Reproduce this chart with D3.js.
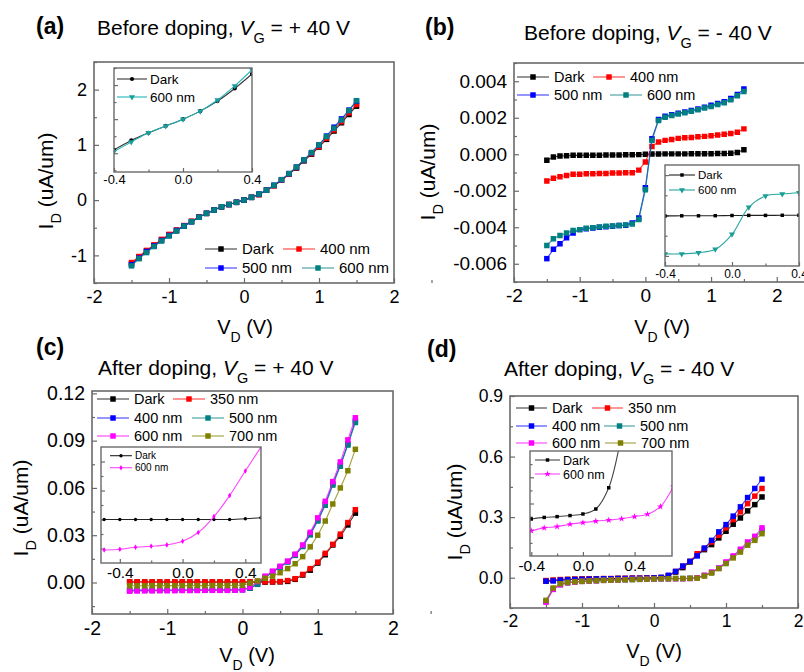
<!DOCTYPE html>
<html>
<head>
<meta charset="utf-8">
<script src="https://cdn.jsdelivr.net/npm/d3@7"></script>
<style>
  body { margin: 0; background: #fff; }
  svg { display: block; }
</style>
</head>
<body>
<svg id="fig" width="804" height="672"></svg>
<script>
// ---------- data ----------
const vd = [-1.5,-1.4,-1.3,-1.2,-1.1,-1.0,-0.9,-0.8,-0.7,-0.6,-0.5,-0.4,-0.3,-0.2,-0.1,0.0,
            0.1,0.2,0.3,0.4,0.5,0.6,0.7,0.8,0.9,1.0,1.1,1.2,1.3,1.4,1.5];

const namesBefore = ["Dark", "400 nm", "500 nm", "600 nm"];
const namesAfter  = ["Dark", "350 nm", "400 nm", "500 nm", "600 nm", "700 nm"];

// (a) before doping, VG = +40 V
const aDark = [-1.15,-1.03,-0.92,-0.82,-0.72,-0.63,-0.55,-0.47,-0.39,-0.31,-0.24,-0.18,-0.12,-0.08,-0.04,0.00,
               0.05,0.10,0.18,0.26,0.36,0.47,0.58,0.71,0.83,0.96,1.10,1.25,1.40,1.55,1.70];
const a400  = [-1.13,-1.02,-0.91,-0.81,-0.71,-0.62,-0.54,-0.46,-0.38,-0.30,-0.24,-0.18,-0.12,-0.08,-0.04,0.00,
               0.05,0.10,0.18,0.26,0.36,0.47,0.59,0.72,0.84,0.97,1.12,1.27,1.42,1.58,1.73];
const a500  = [-1.17,-1.05,-0.93,-0.83,-0.73,-0.64,-0.55,-0.47,-0.39,-0.31,-0.24,-0.18,-0.12,-0.08,-0.04,0.00,
               0.05,0.11,0.18,0.27,0.37,0.48,0.60,0.73,0.86,1.00,1.16,1.32,1.47,1.63,1.79];
const a600  = [-1.19,-1.06,-0.95,-0.84,-0.74,-0.65,-0.56,-0.47,-0.39,-0.31,-0.24,-0.18,-0.12,-0.08,-0.04,0.00,
               0.05,0.11,0.18,0.27,0.37,0.48,0.60,0.73,0.86,1.00,1.15,1.30,1.45,1.62,1.80];
const insVdA   = [-0.4,-0.3,-0.2,-0.1,0.0,0.1,0.2,0.3,0.4];
const aInsDark = [-0.18,-0.125,-0.08,-0.04,0.0,0.047,0.106,0.18,0.265];
const aIns600  = [-0.19,-0.134,-0.08,-0.04,0.0,0.047,0.112,0.195,0.29];

// (b) before doping, VG = -40 V
const bDark = [-0.00033,-0.00015,-0.0001,-0.00008,-0.00006,-0.00006,-0.00005,-0.00005,-0.00005,-0.00004,-0.00004,-0.00004,-0.00003,-0.00003,-0.00002,0.0,
               0.00001,0.00001,0.00002,0.00002,0.00002,0.00002,0.00003,0.00003,0.00003,0.00003,0.00004,0.00004,0.00005,0.0001,0.00025];
const b400  = [-0.00147,-0.00132,-0.00123,-0.00116,-0.0011,-0.00109,-0.00107,-0.00107,-0.00105,-0.00105,-0.00103,-0.00103,-0.00101,-0.00101,-0.00087,-0.00042,
               0.00043,0.00067,0.00076,0.00081,0.00087,0.0009,0.00092,0.00096,0.00098,0.00101,0.00105,0.00109,0.00114,0.00121,0.00139];
const b500  = [-0.00572,-0.00521,-0.0049,-0.00458,-0.00431,-0.00413,-0.00408,-0.00404,-0.004,-0.00398,-0.00394,-0.00391,-0.00389,-0.00376,-0.00349,-0.00183,
               0.00085,0.0019,0.00208,0.00217,0.00225,0.00232,0.0024,0.00248,0.00258,0.00268,0.00278,0.00288,0.00305,0.00328,0.00357];
const b600  = [-0.005,-0.00463,-0.00445,-0.00431,-0.00418,-0.00413,-0.00406,-0.00402,-0.00398,-0.00395,-0.00393,-0.0039,-0.00387,-0.00382,-0.00358,-0.00195,
               0.00076,0.00185,0.00203,0.00212,0.0022,0.00228,0.00236,0.00244,0.00253,0.00262,0.00272,0.00282,0.00298,0.0032,0.00344];
const insVdB   = [-0.4,-0.3,-0.2,-0.1,0.0,0.1,0.2,0.3,0.4];
const bInsDark = [-0.00004,-0.00003,-0.00003,-0.00002,0.0,0.00001,0.00001,0.00002,0.00002];
const bIns600  = [-0.0038,-0.0038,-0.00368,-0.00335,-0.00186,0.00081,0.00193,0.00213,0.00226];

// (c) after doping, VG = +40 V
const cDark = [0.0003,0.0003,0.0003,0.0002,0.0002,0.0002,0.0002,0.0002,0.0002,0.0002,0.0002,0.0002,0.0002,0.0002,0.0002,0.0002,
               0.0002,0.0002,0.0002,0.0003,0.0004,0.0007,0.002,0.0047,0.0078,0.0123,0.0176,0.0238,0.0293,0.0365,0.044];
const c350  = [0.0004,0.0004,0.0004,0.0004,0.0004,0.0004,0.0004,0.0004,0.0004,0.0004,0.0004,0.0004,0.0004,0.0004,0.0004,0.0004,
               0.0004,0.0004,0.0004,0.0004,0.0006,0.0012,0.0024,0.0051,0.0088,0.0129,0.0185,0.0242,0.0307,0.038,0.0462];
const c400  = [-0.0051,-0.005,-0.005,-0.005,-0.005,-0.005,-0.0049,-0.0049,-0.0049,-0.0049,-0.0049,-0.0048,-0.0048,-0.0048,-0.0048,-0.0046,
               -0.0035,-0.001,0.0033,0.0068,0.0098,0.0133,0.0176,0.0232,0.0307,0.0396,0.0498,0.0627,0.0744,0.0878,0.1025];
const c500  = [-0.0049,-0.0048,-0.0048,-0.0048,-0.0048,-0.0048,-0.0047,-0.0047,-0.0047,-0.0047,-0.0047,-0.0046,-0.0046,-0.0046,-0.0046,-0.0045,
               -0.0036,-0.0012,0.0031,0.0066,0.0096,0.013,0.0172,0.0228,0.0302,0.039,0.049,0.0618,0.0738,0.0872,0.1015];
const c600  = [-0.0055,-0.0054,-0.0053,-0.0053,-0.0052,-0.0052,-0.0052,-0.0051,-0.0051,-0.0051,-0.005,-0.005,-0.005,-0.005,-0.0049,-0.0047,
               -0.003,0.0006,0.004,0.0072,0.0103,0.0135,0.018,0.0238,0.0318,0.041,0.0515,0.064,0.0765,0.0905,0.1045];
const c700  = [-0.0021,-0.0021,-0.0021,-0.002,-0.002,-0.002,-0.002,-0.002,-0.002,-0.002,-0.002,-0.0019,-0.0019,-0.0019,-0.0019,-0.0018,
               -0.0004,0.001,0.0027,0.004,0.0062,0.0088,0.0119,0.0164,0.0226,0.03,0.039,0.0498,0.06,0.0709,0.0845];
const insVdC   = [-0.5,-0.4,-0.3,-0.2,-0.1,0.0,0.1,0.2,0.3,0.4,0.5];
const cInsDark = [0.0,0.0,0.0,0.0,0.0,0.0,0.0,0.0,0.0,0.0001,0.00025];
const cIns600  = [-0.0042,-0.0041,-0.00383,-0.0037,-0.0035,-0.003,-0.0018,0.0004,0.0033,0.0067,0.01];

// (d) after doping, VG = -40 V
const dDark = [-0.017,-0.013,-0.01,-0.009,-0.008,-0.007,-0.006,-0.006,-0.005,-0.005,-0.004,-0.004,-0.003,-0.003,-0.002,-0.002,
               0.0,0.008,0.028,0.05,0.078,0.111,0.139,0.164,0.197,0.23,0.265,0.296,0.331,0.362,0.4];
const d350  = [-0.014,-0.012,-0.009,-0.008,-0.007,-0.006,-0.005,-0.005,-0.004,-0.004,-0.003,-0.003,-0.002,-0.002,-0.001,-0.001,
               0.001,0.01,0.031,0.056,0.081,0.119,0.144,0.177,0.21,0.247,0.288,0.326,0.367,0.404,0.442];
const d400  = [-0.017,-0.016,-0.012,-0.01,-0.009,-0.008,-0.007,-0.006,-0.005,-0.005,-0.004,-0.004,-0.003,-0.003,-0.002,-0.001,
               0.002,0.012,0.031,0.058,0.081,0.108,0.147,0.185,0.227,0.263,0.305,0.351,0.397,0.442,0.488];
const d500  = [-0.118,-0.056,-0.034,-0.025,-0.021,-0.018,-0.016,-0.015,-0.013,-0.012,-0.011,-0.01,-0.009,-0.008,-0.007,-0.006,
               -0.005,-0.005,-0.004,-0.004,-0.003,0.0,0.011,0.026,0.047,0.075,0.104,0.136,0.17,0.197,0.235];
const d600  = [-0.121,-0.058,-0.035,-0.025,-0.0215,-0.018,-0.016,-0.015,-0.013,-0.012,-0.01,-0.009,-0.008,-0.008,-0.006,-0.006,
               -0.005,-0.005,-0.005,-0.005,-0.004,0.0,0.012,0.028,0.048,0.078,0.108,0.141,0.177,0.205,0.247];
const d700  = [-0.112,-0.051,-0.03,-0.023,-0.02,-0.018,-0.016,-0.014,-0.013,-0.012,-0.011,-0.01,-0.009,-0.008,-0.007,-0.006,
               -0.005,-0.005,-0.004,-0.004,-0.003,-0.002,0.008,0.023,0.045,0.07,0.098,0.127,0.161,0.185,0.218];
const insVdD   = [-0.4,-0.3,-0.2,-0.1,0.0,0.1,0.2,0.3,0.4,0.5,0.6,0.7];
const dInsDark = [-0.0059,-0.0053,-0.005,-0.0046,-0.004,-0.0021,0.006,0.026,0.05,0.078,0.111,0.139];
const dIns600  = [-0.0104,-0.0093,-0.0088,-0.0079,-0.0073,-0.0067,-0.0063,-0.0058,-0.005,-0.0041,-0.0012,0.0064];

// tick values
const xMajor = [-2,-1,0,1,2];
const xMinor = [-1.5,-0.5,0.5,1.5,2.5];
const aYMajor = [-1,0,1,2];
const aYMinor = [-1.5,-0.5,0.5,1.5,2.5];
const bYMajor = [-0.006,-0.004,-0.002,0,0.002,0.004];
const bYMinor = [-0.007,-0.005,-0.003,-0.001,0.001,0.003,0.005];
const cYMajor = [0,0.03,0.06,0.09,0.12];
const cYMinor = [-0.015,0.015,0.045,0.075,0.105];
const dYMajor = [0,0.3,0.6,0.9];
const dYMinor = [-0.15,0.15,0.45,0.75];
const insXMajor = [-0.4,0.0,0.4];
const insXMinor = [-0.2,0.2];

// ---------- drawing ----------
const FONT = '"Liberation Sans", Arial, Helvetica, sans-serif';
const palette = ["#000000", "#ff0000", "#0000ff", "#008080", "#ff00ff", "#808000"];
const FRAME = "#6a6a6a";
const svg = d3.select("#fig").attr("font-family", FONT);
const hyphen = f => d => f(d).replace("\u2212", "-");

function addAxes(g, x, y, box, o) {
  const bx = g.append("g").attr("transform", `translate(0,${box.bottom})`)
    .call(d3.axisBottom(x).tickValues(o.xMajor).tickSize(-o.major).tickPadding(o.xPad)
      .tickFormat(hyphen(d3.format(o.xFmt))));
  const by = g.append("g").attr("transform", `translate(${box.left},0)`)
    .call(d3.axisLeft(y).tickValues(o.yMajor).tickSize(-o.major).tickPadding(o.yPad)
      .tickFormat(o.yFmt ? hyphen(d3.format(o.yFmt)) : ""));
  const mx = g.append("g").attr("transform", `translate(0,${box.bottom})`)
    .call(d3.axisBottom(x).tickValues(o.xMinor).tickSize(-o.minor).tickFormat(""));
  const my = g.append("g").attr("transform", `translate(${box.left},0)`)
    .call(d3.axisLeft(y).tickValues(o.yMinor).tickSize(-o.minor).tickFormat(""));
  [bx, by, mx, my].forEach(a => {
    a.select(".domain").remove();
    a.attr("font-family", FONT).attr("font-size", o.fontSize).attr("color", FRAME);
    a.selectAll("line").attr("stroke-width", 1.2);
    a.selectAll("text").attr("fill", "#000");
  });
}

function symbolPath(type, size) {
  return d3.symbol().type(type).size(size)();
}

function drawMain(p) {
  const g = svg.append("g");
  const b = p.box;
  const x = d3.scaleLinear().domain(p.xDomain).range([b.left, b.right]);
  const y = d3.scaleLinear().domain(p.yDomain).range([b.bottom, b.top]);
  const clipId = "clip-" + p.key;
  g.append("clipPath").attr("id", clipId).append("rect")
    .attr("x", b.left).attr("y", b.top).attr("width", b.right - b.left).attr("height", b.bottom - b.top);

  addAxes(g, x, y, b, {
    xMajor, xMinor, yMajor: p.yMajor, yMinor: p.yMinor, major: 5, minor: 3,
    xPad: 7, yPad: 7, xFmt: "d", yFmt: p.yFmt, fontSize: p.tickFont
  });

  const plot = g.append("g").attr("clip-path", `url(#${clipId})`);
  const line = d3.line().x((d, i) => x(vd[i])).y(d => y(d));
  const sq = symbolPath(d3.symbolSquare, 30);
  p.series.forEach((s, k) => {
    const c = palette[k];
    plot.append("path").attr("d", line(s)).attr("fill", "none")
      .attr("stroke", c).attr("stroke-width", 1.1).attr("stroke-opacity", 0.75);
    plot.append("g").selectAll("path").data(s).join("path")
      .attr("d", sq).attr("fill", c)
      .attr("transform", (d, i) => `translate(${x(vd[i])},${y(d)})`);
  });

  // inset
  if (p.inset) drawInset(g, p.inset);

  // legend: two entries per row, each row laid out on its own
  const L = p.legend;
  p.names.forEach((name, k) => {
    const row = Math.floor(k / 2), col = k % 2;
    const lx = L.rows[row].x[col], ly = L.rows[row].y;
    const lg = g.append("g");
    lg.append("line").attr("x1", lx).attr("x2", lx + L.len).attr("y1", ly).attr("y2", ly)
      .attr("stroke", palette[k]).attr("stroke-width", 1.1).attr("stroke-opacity", 0.75);
    lg.append("path").attr("d", sq).attr("fill", palette[k])
      .attr("transform", `translate(${lx + L.len / 2},${ly})`);
    lg.append("text").attr("x", lx + L.len + 5).attr("y", ly).attr("dy", "0.36em")
      .attr("font-size", L.fontSize).text(name);
  });

  // frame
  g.append("rect").attr("x", b.left).attr("y", b.top)
    .attr("width", b.right - b.left).attr("height", b.bottom - b.top)
    .attr("fill", "none").attr("stroke", FRAME).attr("stroke-width", 1.6);

  // axis titles
  const xt = g.append("text").attr("x", p.xLabel[0]).attr("y", p.xLabel[1])
    .attr("text-anchor", "middle").attr("font-size", 20);
  xt.append("tspan").text("V");
  xt.append("tspan").attr("baseline-shift", "sub").attr("font-size", 14).text("D");
  xt.append("tspan").text(" (V)");

  const yt = g.append("text").attr("text-anchor", "middle").attr("font-size", 21)
    .attr("transform", `translate(${p.yLabel[0]},${p.yLabel[1]}) rotate(-90)`);
  yt.append("tspan").text("I");
  yt.append("tspan").attr("baseline-shift", "sub").attr("font-size", 14.5).text("D");
  yt.append("tspan").text(" (uA/um)");

  // panel letter and title
  g.append("text").attr("x", p.letter[0]).attr("y", p.letter[1])
    .attr("font-size", 23).attr("font-weight", "bold").text(p.letterText);
  const tt = g.append("text").attr("x", p.title[0]).attr("y", p.title[1]).attr("font-size", 21);
  tt.append("tspan").text(p.titleText[0]);
  tt.append("tspan").attr("font-style", "italic").text("V");
  tt.append("tspan").attr("baseline-shift", "sub").attr("font-size", 14.5).text("G");
  tt.append("tspan").text(p.titleText[1]);
}

function drawInset(parent, q) {
  const g = parent.append("g");
  const b = q.box;
  const x = d3.scaleLinear().domain(q.xDomain).range([b.left, b.right]);
  const y = d3.scaleLinear().domain(q.yDomain).range([b.bottom, b.top]);
  g.append("rect").attr("x", b.left).attr("y", b.top)
    .attr("width", b.right - b.left).attr("height", b.bottom - b.top).attr("fill", "#fff");
  const clipId = "clip-" + q.key;
  g.append("clipPath").attr("id", clipId).append("rect")
    .attr("x", b.left).attr("y", b.top).attr("width", b.right - b.left).attr("height", b.bottom - b.top);

  addAxes(g, x, y, b, {
    xMajor: insXMajor, xMinor: insXMinor, yMajor: q.yMajor, yMinor: q.yMinor,
    major: 4, minor: 2.5, xPad: q.xPad, yPad: 4, xFmt: ".1f", yFmt: null, fontSize: q.fontSize
  });

  const plot = g.append("g").attr("clip-path", `url(#${clipId})`);
  q.series.forEach(s => {
    const line = d3.line().curve(d3.curveCatmullRom.alpha(0.5))
      .x((d, i) => x(q.vd[i])).y(d => y(d));
    plot.append("path").attr("d", line(s.values)).attr("fill", "none")
      .attr("stroke", s.line).attr("stroke-width", 1.1);
    plot.append("g").selectAll("path").data(s.values).join("path")
      .attr("d", symbolPath(s.symbol, s.size)).attr("fill", s.color)
      .attr("transform", (d, i) => `translate(${x(q.vd[i])},${y(d)})${s.flip ? " rotate(180)" : ""}`);
  });

  // legend
  const L = q.legend;
  q.series.forEach((s, k) => {
    const ly = L.rows[k];
    g.append("line").attr("x1", L.x).attr("x2", L.x + L.len).attr("y1", ly).attr("y2", ly)
      .attr("stroke", s.line).attr("stroke-width", 1.1);
    g.append("path").attr("d", symbolPath(s.symbol, s.size)).attr("fill", s.color)
      .attr("transform", `translate(${L.x + L.len / 2},${ly})${s.flip ? " rotate(180)" : ""}`);
    g.append("text").attr("x", L.x + L.len + 3).attr("y", ly).attr("dy", "0.36em")
      .attr("font-size", L.fontSize).text(s.name);
  });

  g.append("rect").attr("x", b.left).attr("y", b.top)
    .attr("width", b.right - b.left).attr("height", b.bottom - b.top)
    .attr("fill", "none").attr("stroke", FRAME).attr("stroke-width", 1.4);
}

// ---------- panels ----------
drawMain({
  key: "a", box: {left: 94, right: 394, top: 62, bottom: 283}, tickFont: 18,
  xDomain: [-2, 2], yDomain: [-1.5, 2.5], yMajor: aYMajor, yMinor: aYMinor, yFmt: "d",
  series: [aDark, a400, a500, a600], names: namesBefore,
  legend: {len: 32, fontSize: 15, rows: [{y: 249, x: [205, 283]}, {y: 268, x: [205, 302]}]},
  xLabel: [245, 334], yLabel: [53, 181],
  letter: [36, 34], letterText: "(a)", title: [97, 35], titleText: ["Before doping, ", " = + 40 V"],
  inset: {
    key: "ai", box: {left: 114, right: 252, top: 68, bottom: 172},
    xDomain: [-0.4, 0.4], yDomain: [-0.31, 0.30], yMajor: [-0.2, 0.0, 0.2], yMinor: [-0.3, -0.1, 0.1, 0.3],
    xPad: 3, fontSize: 13, vd: insVdA,
    series: [
      {name: "Dark", values: aInsDark, color: "#000", line: "#333", symbol: d3.symbolCircle, size: 14},
      {name: "600 nm", values: aIns600, color: "#1a9e9e", line: "#22b5b5", symbol: d3.symbolTriangle, size: 16, flip: true}
    ],
    legend: {x: 117, len: 30, rows: [79, 97], fontSize: 13.5}
  }
});

drawMain({
  key: "b", box: {left: 514, right: 809.6, top: 63, bottom: 282}, tickFont: 19,
  xDomain: [-2, 2.5], yDomain: [-0.007, 0.005], yMajor: bYMajor, yMinor: bYMinor, yFmt: ".3f",
  series: [bDark, b400, b500, b600], names: namesBefore,
  legend: {len: 32, fontSize: 14.5, rows: [{y: 77, x: [517, 593]}, {y: 95, x: [517, 610]}]},
  xLabel: [662, 334], yLabel: [435, 172],
  letter: [425, 35], letterText: "(b)", title: [524, 40], titleText: ["Before doping, ", " = - 40 V"],
  inset: {
    key: "bi", box: {left: 665, right: 799, top: 165, bottom: 266},
    xDomain: [-0.4, 0.4], yDomain: [-0.005, 0.005], yMajor: [-0.004, 0.0, 0.004], yMinor: [-0.002, 0.002],
    xPad: 3, fontSize: 12, vd: insVdB,
    series: [
      {name: "Dark", values: bInsDark, color: "#000", line: "#222", symbol: d3.symbolSquare, size: 12},
      {name: "600 nm", values: bIns600, color: "#1a9e96", line: "#2aa7a0", symbol: d3.symbolTriangle, size: 16, flip: true}
    ],
    legend: {x: 669, len: 26, rows: [175, 190], fontSize: 11.5}
  }
});

drawMain({
  key: "c", box: {left: 92, right: 393, top: 391, bottom: 614}, tickFont: 19.5,
  xDomain: [-2, 2], yDomain: [-0.02, 0.1215], yMajor: cYMajor, yMinor: cYMinor, yFmt: ".2f",
  series: [cDark, c350, c400, c500, c600, c700], names: namesAfter,
  legend: {len: 32, fontSize: 14.5, rows: [{y: 399, x: [97, 173]}, {y: 418, x: [97, 192]}, {y: 436, x: [97, 192]}]},
  xLabel: [247, 662], yLabel: [28, 508],
  letter: [36, 355], letterText: "(c)", title: [98, 375], titleText: ["After doping, ", " = + 40 V"],
  inset: {
    key: "ci", box: {left: 101, right: 261, top: 447, bottom: 563},
    xDomain: [-0.52, 0.5], yDomain: [-0.006, 0.01], yMajor: [-0.004, 0.0, 0.004, 0.008], yMinor: [-0.002, 0.002, 0.006],
    xPad: 4, fontSize: 15.5, vd: insVdC,
    series: [
      {name: "Dark", values: cInsDark, color: "#000", line: "#222", symbol: d3.symbolCircle, size: 9},
      {name: "600 nm", values: cIns600, color: "#ff00ff", line: "#ff44ff", symbol: d3.symbolDiamond, size: 9}
    ],
    legend: {x: 110, len: 22, rows: [455.7, 467.7], fontSize: 10}
  }
});

drawMain({
  key: "d", box: {left: 510, right: 798, top: 396, bottom: 608}, tickFont: 17.5,
  xDomain: [-2, 2], yDomain: [-0.15, 0.9], yMajor: dYMajor, yMinor: dYMinor, yFmt: ".1f",
  series: [dDark, d350, d400, d500, d600, d700], names: namesAfter,
  legend: {len: 31, fontSize: 14.5, rows: [{y: 408, x: [516, 592]}, {y: 426, x: [516, 604]}, {y: 443, x: [516, 605]}]},
  xLabel: [654, 658], yLabel: [462, 512],
  letter: [427, 357], letterText: "(d)", title: [504, 376], titleText: ["After doping, ", " = - 40 V"],
  inset: {
    key: "di", box: {left: 530, right: 672, top: 451, bottom: 556},
    xDomain: [-0.41, 0.69], yDomain: [-0.02, 0.02], yMajor: [-0.01, 0.0, 0.01], yMinor: [-0.015, -0.005, 0.005, 0.015],
    xPad: 4, fontSize: 15.5, vd: insVdD,
    series: [
      {name: "Dark", values: dInsDark, color: "#000", line: "#444", symbol: d3.symbolSquare, size: 12},
      {name: "600 nm", values: dIns600, color: "#ff00ff", line: "#ff44ff", symbol: d3.symbolStar, size: 14}
    ],
    legend: {x: 535, len: 25, rows: [460, 474], fontSize: 12.5}
  }
});
</script>
</body>
</html>
